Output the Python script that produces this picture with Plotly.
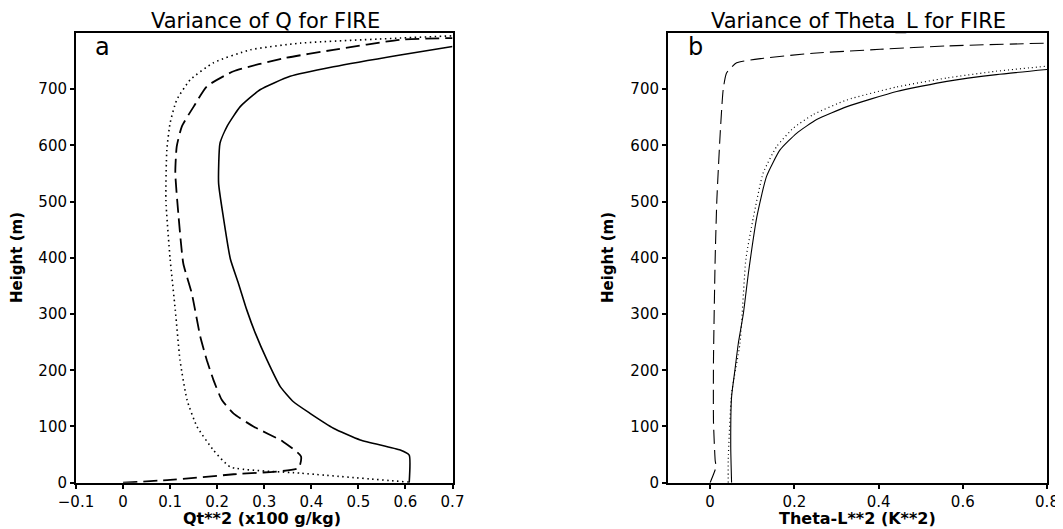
import plotly.graph_objects as go

# ---- Panel a: Variance of Q (x100 g/kg) ----
a_solid_h = [0, 49, 58, 76, 97, 123, 144, 171, 218, 266, 307, 355, 398, 473, 533, 604, 634, 669, 699, 723, 740, 761, 776]
a_solid_x = [0.608, 0.608, 0.589, 0.504, 0.447, 0.398, 0.362, 0.334, 0.306, 0.281, 0.263, 0.245, 0.228, 0.213, 0.203, 0.206, 0.221, 0.249, 0.291, 0.355, 0.447, 0.589, 0.7]

a_dash_h = [0, 5, 15, 26, 47, 73, 100, 123, 147, 183, 218, 260, 337, 390, 473, 551, 598, 634, 669, 705, 732, 755, 770, 788, 791]
a_dash_x = [0.0, 0.1, 0.235, 0.373, 0.378, 0.34, 0.277, 0.235, 0.21, 0.192, 0.178, 0.164, 0.146, 0.128, 0.118, 0.111, 0.114, 0.125, 0.15, 0.178, 0.235, 0.341, 0.447, 0.589, 0.7]

a_dot_h = [1, 17, 28, 58, 100, 147, 218, 307, 398, 503, 592, 640, 681, 717, 747, 770, 782, 791, 795]
a_dot_x = [0.607, 0.377, 0.228, 0.192, 0.157, 0.136, 0.121, 0.111, 0.1, 0.091, 0.093, 0.1, 0.114, 0.143, 0.192, 0.27, 0.377, 0.589, 0.7]

# ---- Panel b: Variance of Theta_L (K**2) ----
b_solid_h = [0, 64, 153, 201, 248, 301, 373, 473, 545, 592, 622, 646, 669, 696, 714, 726, 735]
b_solid_x = [0.051, 0.049, 0.051, 0.059, 0.067, 0.079, 0.091, 0.111, 0.134, 0.166, 0.206, 0.253, 0.325, 0.443, 0.562, 0.68, 0.8]

b_dot_h = [0, 40, 159, 248, 398, 473, 551, 598, 631, 655, 681, 704, 720, 732, 741]
b_dot_x = [0.043, 0.043, 0.051, 0.071, 0.085, 0.103, 0.126, 0.158, 0.198, 0.245, 0.325, 0.443, 0.562, 0.68, 0.8]

b_dash_h = [0, 28, 40, 108, 218, 398, 503, 622, 699, 729, 747, 755, 764, 771, 777, 782]
b_dash_x = [0.0, 0.014, 0.012, 0.008, 0.008, 0.012, 0.016, 0.024, 0.031, 0.039, 0.063, 0.126, 0.245, 0.404, 0.562, 0.8]

titles = ["Variance of Q for FIRE", "Variance of Theta_L for FIRE"]
xtitles = ["Qt**2 (x100 g/kg)", "Theta-L**2 (K**2)"]
ytitle = "Height (m)"
panel_labels = ["a", "b"]
a_xticks = [-0.1, 0, 0.1, 0.2, 0.3, 0.4, 0.5, 0.6, 0.7]
a_xlabels = ["\u22120.1", "0", "0.1", "0.2", "0.3", "0.4", "0.5", "0.6", "0.7"]
b_xticks = [0, 0.2, 0.4, 0.6, 0.8]
b_xlabels = ["0", "0.2", "0.4", "0.6", "0.8"]
yticks = [0, 100, 200, 300, 400, 500, 600, 700]

FONT = "DejaVu Sans"
fig = go.Figure()

def add(x, h, dash, width, xa, ya):
    fig.add_trace(go.Scatter(x=x, y=h, mode="lines", xaxis=xa, yaxis=ya,
                             line=dict(color="black", width=width, dash=dash,
                                       shape="spline", smoothing=0.5),
                             showlegend=False, hoverinfo="skip"))

add(a_solid_x, a_solid_h, "solid", 1.6, "x", "y")
add(a_dash_x, a_dash_h, "14px,6px", 1.8, "x", "y")
add(a_dot_x, a_dot_h, "1.5px,3.5px", 1.6, "x", "y")
add(b_solid_x, b_solid_h, "solid", 1.1, "x2", "y2")
add(b_dot_x, b_dot_h, "1px,3px", 1.2, "x2", "y2")
add(b_dash_x, b_dash_h, "14px,6px", 1.1, "x2", "y2")

# the page body adds an 8px margin; positions below are given in window pixels
OFF = 8
W, H = 1063 - OFF, 529 - OFF

def fx(xp):
    return (xp - OFF) / W

def fy(yp):
    return 1 - (yp - OFF) / H

ax_common = dict(showgrid=False, zeroline=False, showline=True, linecolor="black", linewidth=2,
                 mirror=True, ticks="outside", ticklen=4, tickwidth=1.5, tickcolor="black",
                 automargin=False,
                 tickfont=dict(family=FONT, size=15, color="black"))
y_dom = [fy(482.7), fy(33)]

fig.update_layout(
    width=W, height=H, margin=dict(l=0, r=0, t=0, b=0, pad=0, autoexpand=False),
    paper_bgcolor="white", plot_bgcolor="white",
    xaxis=dict(domain=[fx(76), fx(452.5)], range=[-0.1, 0.7], tickvals=a_xticks,
               ticktext=a_xlabels, anchor="y", **ax_common),
    yaxis=dict(domain=y_dom, range=[0, 800], tickvals=yticks, anchor="x", **ax_common),
    xaxis2=dict(domain=[fx(668), fx(1047)], range=[-0.1, 0.8], tickvals=b_xticks,
                ticktext=b_xlabels, anchor="y2", **ax_common),
    yaxis2=dict(domain=y_dom, range=[0, 800], tickvals=yticks, anchor="x2", **ax_common),
)

anns = [
    (titles[0], 265, 21, 21, False, 0),
    (titles[1], 858, 21, 21, False, 0),
    (xtitles[0], 262, 518, 16, True, 0),
    (xtitles[1], 857, 518, 16, True, 0),
    (ytitle, 17, 258, 15, True, -90),
    (ytitle, 608, 258, 15, True, -90),
    (panel_labels[0], 102, 47, 24, False, 0),
    (panel_labels[1], 695, 47, 24, False, 0),
]
for text, xp, yp, size, bold, ang in anns:
    fig.add_annotation(x=fx(xp), y=fy(yp), xref="paper", yref="paper", showarrow=False,
                       text=f"<b>{text}</b>" if bold else text, textangle=ang,
                       xanchor="center", yanchor="middle",
                       font=dict(family=FONT, size=size, color="black"))

fig.write_html("out.html")
